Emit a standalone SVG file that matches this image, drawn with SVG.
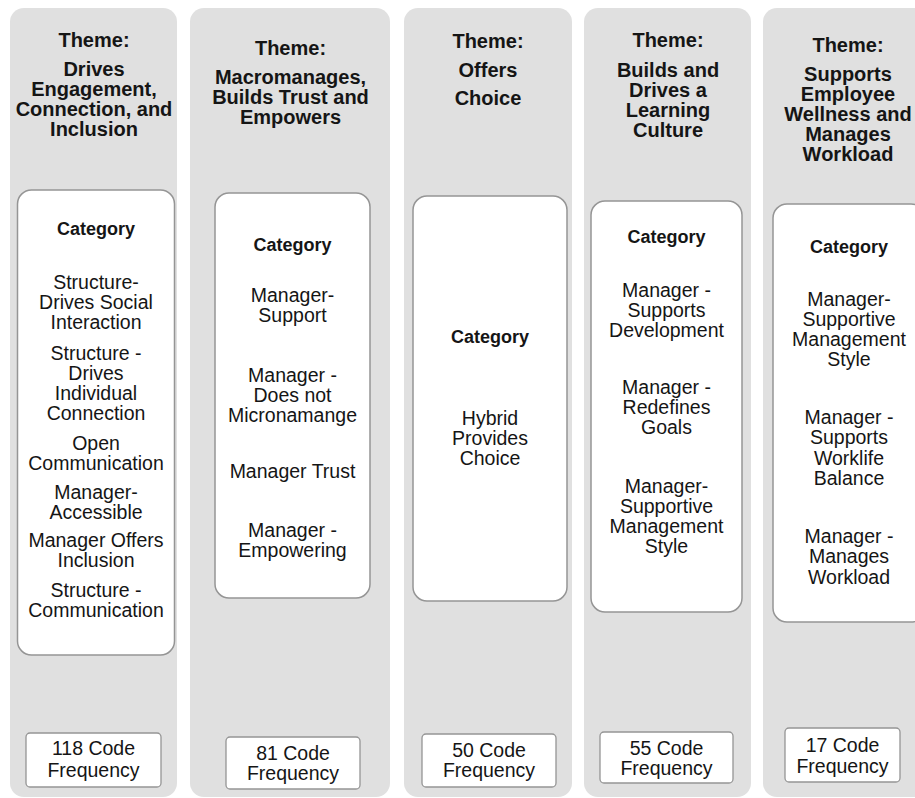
<svg xmlns="http://www.w3.org/2000/svg" width="915" height="798" viewBox="0 0 915 798">
  <style>
    .col { fill: #e0e0e0; }
    .cat { fill: #ffffff; stroke: #959595; stroke-width: 1.5; }
    .freq { fill: #ffffff; stroke: #959595; stroke-width: 1.3; }
    text { font-family: "Liberation Sans", Arial, sans-serif; fill: #151515; text-anchor: middle; }
    .theme { font-size: 20px; font-weight: bold; }
    .head { font-size: 18px; font-weight: bold; }
    .item { font-size: 19.5px; }
  </style>
  <rect width="915" height="798" fill="#ffffff"/>

  <!-- Theme 1 -->
  <g id="theme-engagement">
    <rect class="col" x="10" y="8" width="167" height="789" rx="14"/>
    <text class="theme" x="94" y="47">Theme:</text>
    <text class="theme" x="94" y="76">Drives</text>
    <text class="theme" x="94" y="96">Engagement,</text>
    <text class="theme" x="94" y="116">Connection, and</text>
    <text class="theme" x="94" y="136">Inclusion</text>
    <rect class="cat" x="17.5" y="190" width="157" height="465" rx="14"/>
    <text class="head" x="96" y="235">Category</text>
    <text class="item" x="96" y="289">Structure-</text>
    <text class="item" x="96" y="309">Drives Social</text>
    <text class="item" x="96" y="329">Interaction</text>
    <text class="item" x="96" y="360">Structure -</text>
    <text class="item" x="96" y="380">Drives</text>
    <text class="item" x="96" y="400">Individual</text>
    <text class="item" x="96" y="420">Connection</text>
    <text class="item" x="96" y="450">Open</text>
    <text class="item" x="96" y="470">Communication</text>
    <text class="item" x="96" y="499">Manager-</text>
    <text class="item" x="96" y="519">Accessible</text>
    <text class="item" x="96" y="547">Manager Offers</text>
    <text class="item" x="96" y="567">Inclusion</text>
    <text class="item" x="96" y="597">Structure -</text>
    <text class="item" x="96" y="617">Communication</text>
    <rect class="freq" x="26" y="733" width="135" height="54" rx="4"/>
    <text class="item" x="93.5" y="755">118 Code</text>
    <text class="item" x="93.5" y="777">Frequency</text>
  </g>

  <!-- Theme 2 -->
  <g id="theme-trust">
    <rect class="col" x="190" y="8" width="200" height="789" rx="14"/>
    <text class="theme" x="290.5" y="55">Theme:</text>
    <text class="theme" x="290.5" y="84">Macromanages,</text>
    <text class="theme" x="290.5" y="104">Builds Trust and</text>
    <text class="theme" x="290.5" y="124">Empowers</text>
    <rect class="cat" x="215" y="193" width="155" height="405" rx="14"/>
    <text class="head" x="292.5" y="251">Category</text>
    <text class="item" x="292.5" y="302">Manager-</text>
    <text class="item" x="292.5" y="322">Support</text>
    <text class="item" x="292.5" y="382">Manager -</text>
    <text class="item" x="292.5" y="402">Does not</text>
    <text class="item" x="292.5" y="422">Micronamange</text>
    <text class="item" x="292.5" y="478">Manager Trust</text>
    <text class="item" x="292.5" y="537">Manager -</text>
    <text class="item" x="292.5" y="557">Empowering</text>
    <rect class="freq" x="226" y="737" width="134" height="52" rx="4"/>
    <text class="item" x="293" y="760">81 Code</text>
    <text class="item" x="293" y="780">Frequency</text>
  </g>

  <!-- Theme 3 -->
  <g id="theme-choice">
    <rect class="col" x="404" y="8" width="168" height="789" rx="14"/>
    <text class="theme" x="488" y="48">Theme:</text>
    <text class="theme" x="488" y="77">Offers</text>
    <text class="theme" x="488" y="105">Choice</text>
    <rect class="cat" x="413" y="196" width="154" height="405" rx="14"/>
    <text class="head" x="490" y="343">Category</text>
    <text class="item" x="490" y="425">Hybrid</text>
    <text class="item" x="490" y="445">Provides</text>
    <text class="item" x="490" y="465">Choice</text>
    <rect class="freq" x="422" y="734" width="134" height="53" rx="4"/>
    <text class="item" x="489" y="757">50 Code</text>
    <text class="item" x="489" y="777">Frequency</text>
  </g>

  <!-- Theme 4 -->
  <g id="theme-learning">
    <rect class="col" x="584" y="8" width="167" height="789" rx="14"/>
    <text class="theme" x="668" y="47">Theme:</text>
    <text class="theme" x="668" y="77">Builds and</text>
    <text class="theme" x="668" y="97">Drives a</text>
    <text class="theme" x="668" y="117">Learning</text>
    <text class="theme" x="668" y="137">Culture</text>
    <rect class="cat" x="591" y="201" width="151" height="411" rx="14"/>
    <text class="head" x="666.5" y="243">Category</text>
    <text class="item" x="666.5" y="297">Manager -</text>
    <text class="item" x="666.5" y="317">Supports</text>
    <text class="item" x="666.5" y="337">Development</text>
    <text class="item" x="666.5" y="394">Manager -</text>
    <text class="item" x="666.5" y="414">Redefines</text>
    <text class="item" x="666.5" y="434">Goals</text>
    <text class="item" x="666.5" y="493">Manager-</text>
    <text class="item" x="666.5" y="513">Supportive</text>
    <text class="item" x="666.5" y="533">Management</text>
    <text class="item" x="666.5" y="553">Style</text>
    <rect class="freq" x="600" y="732" width="133" height="51" rx="4"/>
    <text class="item" x="666.5" y="755">55 Code</text>
    <text class="item" x="666.5" y="775">Frequency</text>
  </g>

  <!-- Theme 5 -->
  <g id="theme-wellness">
    <rect class="col" x="763" y="8" width="167" height="789" rx="14"/>
    <text class="theme" x="848" y="52">Theme:</text>
    <text class="theme" x="848" y="81">Supports</text>
    <text class="theme" x="848" y="101">Employee</text>
    <text class="theme" x="848" y="121">Wellness and</text>
    <text class="theme" x="848" y="141">Manages</text>
    <text class="theme" x="848" y="161">Workload</text>
    <rect class="cat" x="773" y="204" width="152" height="418" rx="14"/>
    <text class="head" x="849" y="253">Category</text>
    <text class="item" x="849" y="306">Manager-</text>
    <text class="item" x="849" y="326">Supportive</text>
    <text class="item" x="849" y="346">Management</text>
    <text class="item" x="849" y="366">Style</text>
    <text class="item" x="849" y="424">Manager -</text>
    <text class="item" x="849" y="444">Supports</text>
    <text class="item" x="849" y="465">Worklife</text>
    <text class="item" x="849" y="485">Balance</text>
    <text class="item" x="849" y="543">Manager -</text>
    <text class="item" x="849" y="563">Manages</text>
    <text class="item" x="849" y="584">Workload</text>
    <rect class="freq" x="785" y="728" width="115" height="54" rx="4"/>
    <text class="item" x="842.5" y="752">17 Code</text>
    <text class="item" x="842.5" y="773">Frequency</text>
  </g>

  <!-- no connectors between the theme columns -->
  <g id="connectors"/>
</svg>
